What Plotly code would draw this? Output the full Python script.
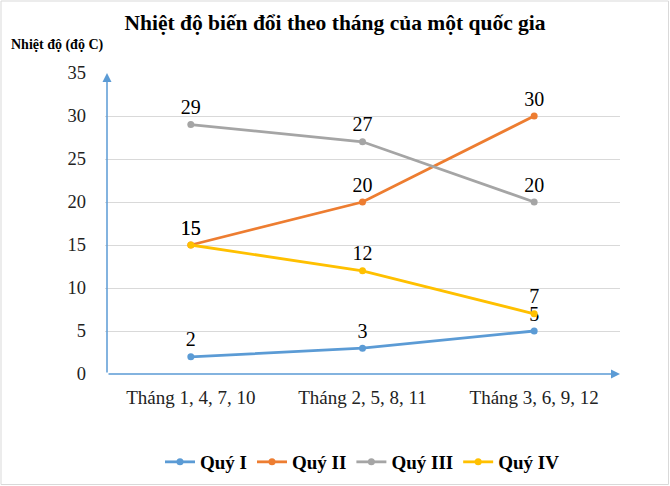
import plotly.graph_objects as go

categories = ["Tháng 1, 4, 7, 10", "Tháng 2, 5, 8, 11", "Tháng 3, 6, 9, 12"]
series_names = ["Quý I", "Quý II", "Quý III", "Quý IV"]
q1 = [2, 3, 5]
q2 = [15, 20, 30]
q3 = [29, 27, 20]
q4 = [15, 12, 7]
y_ticks = [0, 5, 10, 15, 20, 25, 30, 35]
colors = ["#5B9BD5", "#ED7D31", "#A5A5A5", "#FFC000"]

FONT = "Liberation Serif, Times New Roman, serif"
fig = go.Figure()
for name, vals, c in zip(series_names, [q1, q2, q3, q4], colors):
    fig.add_trace(go.Scatter(
        x=categories, y=vals, name="<b>" + name + "</b>", mode="lines+markers+text",
        line=dict(color=c, width=2.8), marker=dict(color=c, size=7),
        text=[str(v) for v in vals], textposition="top center",
        textfont=dict(family=FONT, size=20, color="black"),
        cliponaxis=False,
    ))

W, H = 670, 486
L, R, T, B = 105, 50, 73, 112
pw, ph = W - L - R, H - T - B

fig.update_layout(
    width=W, height=H,
    margin=dict(l=L, r=R, t=T, b=B, autoexpand=False),
    paper_bgcolor="white", plot_bgcolor="white",
    font=dict(family=FONT, color="black"),
    title=dict(text="<b>Nhiệt độ biến đổi theo tháng của một quốc gia</b>",
               x=0.5, xanchor="center", y=1 - 22 / H, yanchor="middle",
               font=dict(family=FONT, size=21.5, color="black")),
    showlegend=True,
    legend=dict(orientation="h", x=0.5, xanchor="center", y=-(462 - 374) / ph, yanchor="middle",
                font=dict(family=FONT, size=19, color="black"), itemwidth=30,
                traceorder="normal"),
    xaxis=dict(type="category", range=[-0.5, 2.5], showgrid=False, showline=False,
               zeroline=False, ticks="", tickfont=dict(family=FONT, size=19, color="#222"),
               ticklabelstandoff=10, automargin=False),
    yaxis=dict(range=[0, 35], tickvals=y_ticks, showgrid=True, gridcolor="#D9D9D9",
               gridwidth=1, showline=False, zeroline=False, ticks="",
               tickfont=dict(family=FONT, size=18.5, color="#222"), ticklabelstandoff=18,
               automargin=False),
    shapes=[dict(type="rect", xref="paper", yref="paper",
                 x0=-(L - 1) / pw, x1=1 + (R - 1.5) / pw,
                 y0=-(B - 1.5) / ph, y1=1 + (T - 1) / ph,
                 line=dict(color="#D9D9D9", width=1), fillcolor="rgba(0,0,0,0)")],
    annotations=[
        dict(text="<b>Nhiệt độ (độ C)</b>", xref="paper", yref="paper",
             x=-(L - 9) / pw, y=1 + (T - 45) / ph, xanchor="left", yanchor="middle",
             showarrow=False, font=dict(family=FONT, size=14, color="black")),
        dict(xref="paper", yref="paper", x=2 / pw, y=1, ax=0, ay=ph, showarrow=True,
             arrowhead=2, arrowsize=1.2, arrowwidth=1.5, arrowcolor="#5B9BD5", text=""),
        dict(xref="paper", yref="paper", x=1, y=0, ax=-pw + 2, ay=0, showarrow=True,
             arrowhead=2, arrowsize=1.2, arrowwidth=1.5, arrowcolor="#5B9BD5", text=""),
    ],
)

fig.write_html("out.html")
